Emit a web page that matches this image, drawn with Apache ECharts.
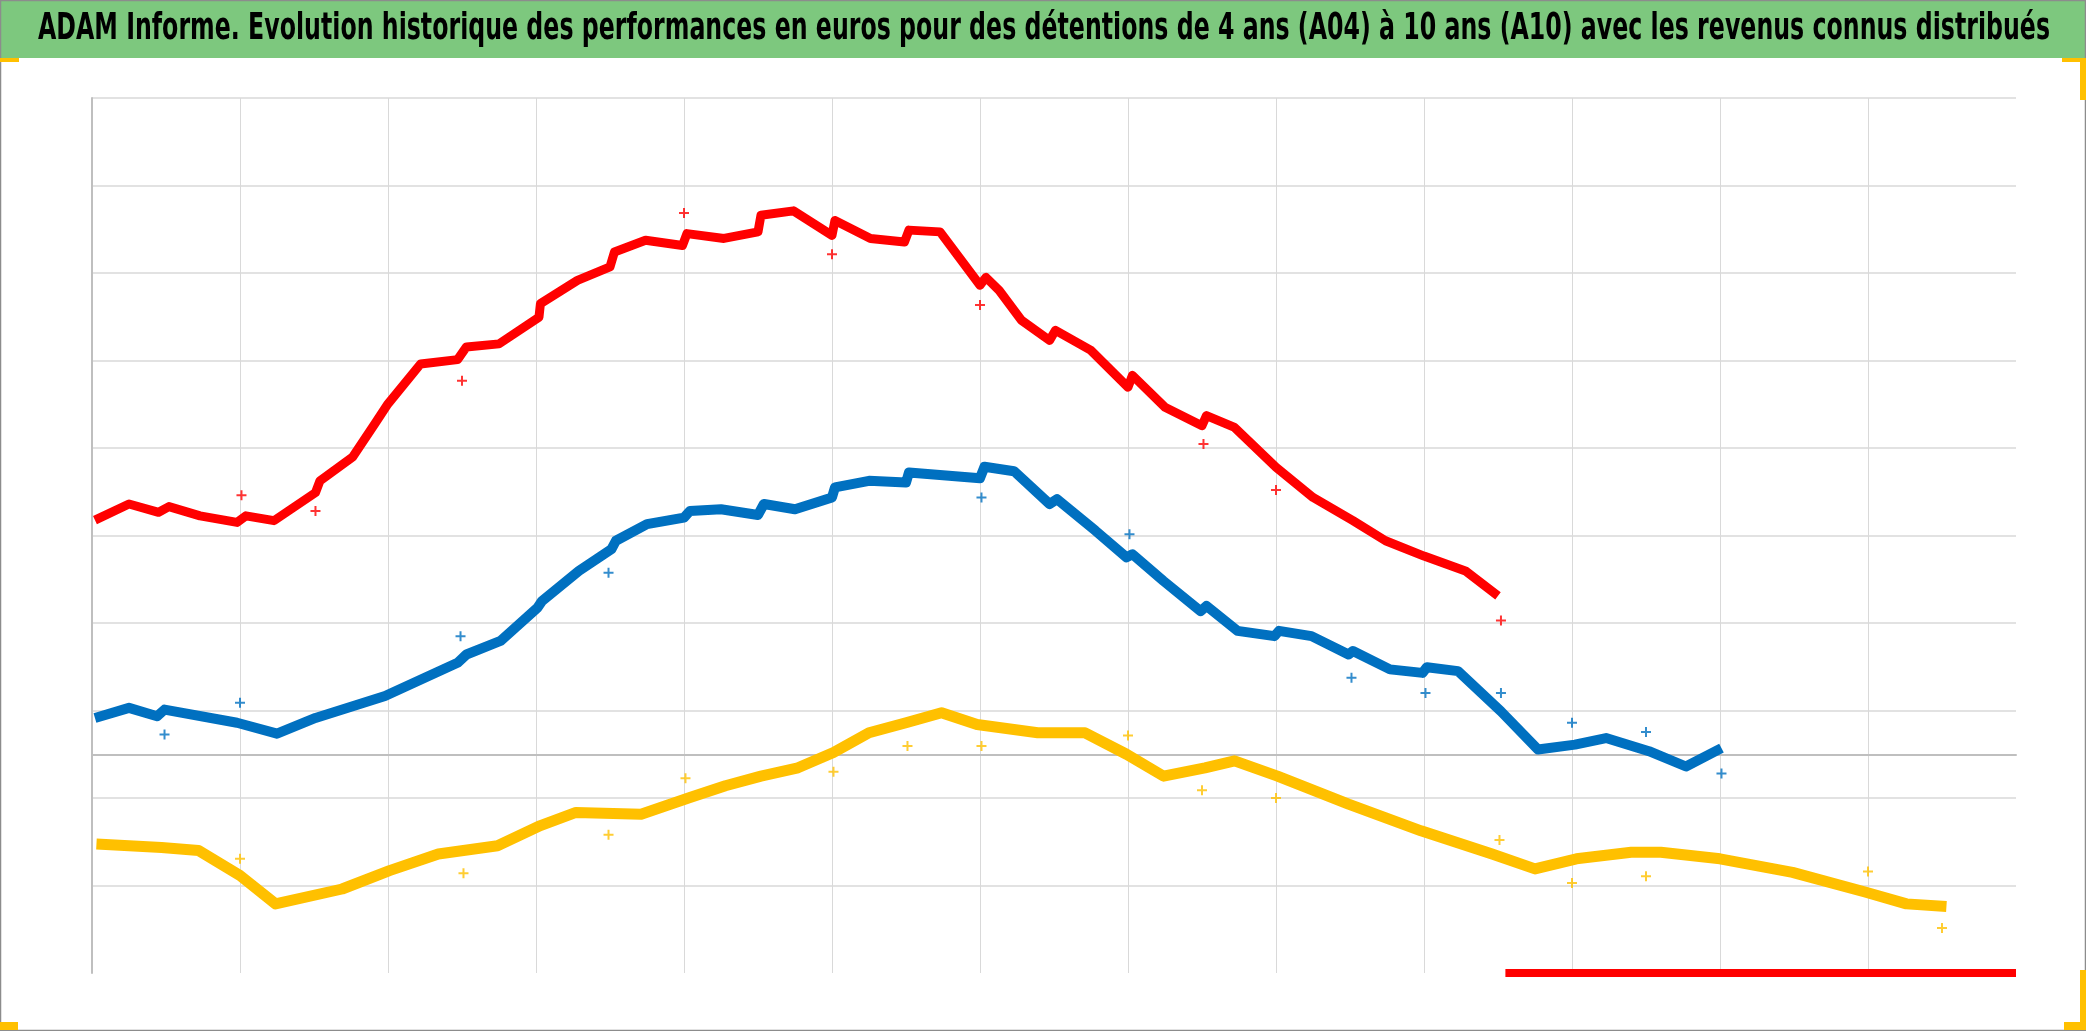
<!DOCTYPE html>
<html>
<head>
<meta charset="utf-8">
<script src="https://cdn.jsdelivr.net/npm/echarts@6/dist/echarts.min.js"></script>
<style>
html,body{margin:0;padding:0;background:#fff;}
#chart{width:2086px;height:1031px;}
</style>
</head>
<body>
<div id="chart"></div>
<script>
// Title
const titleText = "ADAM Informe. Evolution historique des performances en euros pour des détentions de 4 ans (A04) à 10 ans (A10) avec les revenus connus distribués";

// x in axis units (one vertical gridline per unit), y in % (zero line = 0)
const xRange = [0, 13];
const yRange = [-50, 150];

// Daily performance curves
const a10Line = [[0.02,53.5],[0.25,57.2],[0.45,55.3],[0.52,56.6],[0.73,54.5],[0.98,53.0],[1.04,54.5],[1.23,53.4],[1.51,59.8],[1.54,62.5],[1.76,67.9],[1.91,75.5],[2.0,80.1],[2.22,89.2],[2.47,90.2],[2.53,93.1],[2.75,93.8],[3.02,99.9],[3.03,103],[3.28,108.3],[3.50,111.4],[3.53,114.8],[3.74,117.5],[3.99,116.3],[4.02,119],[4.27,117.9],[4.50,119.4],[4.52,123.2],[4.74,124.2],[5.00,118.6],[5.02,122],[5.26,117.9],[5.49,117.1],[5.52,119.8],[5.73,119.4],[6.0,107.2],[6.04,109],[6.13,106],[6.28,99.2],[6.47,94.6],[6.51,96.9],[6.75,92.3],[7.0,83.9],[7.03,86.6],[7.25,79.3],[7.50,75.1],[7.53,77.4],[7.72,74.7],[8.0,65.6],[8.25,58.7],[8.52,53.4],[8.74,48.8],[9.0,45.3],[9.28,41.9],[9.50,36.2]];
const a07Line = [[0.02,8.3],[0.25,10.6],[0.44,8.7],[0.49,10.2],[0.98,7.2],[1.25,4.7],[1.51,8.3],[1.98,13.3],[2.47,20.9],[2.53,22.8],[2.76,25.9],[3.01,33.5],[3.04,35],[3.29,41.9],[3.51,46.9],[3.54,48.8],[3.75,52.6],[4.0,54.1],[4.04,55.6],[4.25,56],[4.50,54.7],[4.54,57.2],[4.75,56],[5.0,58.7],[5.02,61],[5.25,62.5],[5.50,62.1],[5.52,64.4],[6.0,63.1],[6.03,65.7],[6.23,64.7],[6.47,57.2],[6.52,58.3],[6.78,51.1],[6.99,45],[7.03,45.7],[7.24,39.6],[7.49,32.7],[7.53,33.9],[7.74,28.2],[7.99,27],[8.02,28.2],[8.24,27],[8.49,22.8],[8.52,23.6],[8.77,19.4],[8.99,18.6],[9.02,19.9],[9.23,19],[9.52,9.8],[9.77,1.1],[10.02,2.2],[10.23,3.7],[10.52,0.7],[10.77,-2.8],[11.01,1.4]];
const a04Line = [[0.03,-20.5],[0.47,-21.3],[0.72,-22],[1.0,-27.7],[1.24,-34.2],[1.69,-30.8],[2.01,-26.6],[2.34,-22.8],[2.74,-20.9],[3.03,-16.3],[3.27,-13.3],[3.71,-13.7],[4.04,-9.9],[4.28,-7.2],[4.52,-5],[4.77,-3.1],[5.01,0.4],[5.25,4.9],[5.5,7.2],[5.74,9.5],[5.98,6.8],[6.39,4.9],[6.71,4.9],[6.99,0],[7.24,-5],[7.52,-3.1],[7.72,-1.5],[8.01,-5],[8.49,-11.4],[8.98,-17.5],[9.46,-22.8],[9.75,-26.2],[10.03,-23.9],[10.40,-22.4],[10.6,-22.4],[11.0,-23.9],[11.49,-27],[11.98,-31.5],[12.26,-34.2],[12.53,-34.8]];

// Yearly points with known distributed revenues
const a10Rev = [[1.01,59.2],[1.51,55.6],[2.50,85.4],[4.0,123.7],[5.0,114.3],[6.0,102.7],[7.51,70.9],[8.0,60.4],[9.52,30.6]];
const a07Rev = [[0.49,4.5],[1.0,11.8],[2.49,27],[3.49,41.5],[6.01,58.7],[7.01,50.3],[8.51,17.5],[9.01,14],[9.52,14],[10.0,7.2],[10.5,5.1],[11.01,-4.4]];
const a04Rev = [[1.0,-23.9],[2.51,-27.2],[3.49,-18.4],[4.01,-5.5],[5.01,-4],[5.51,1.9],[6.01,1.9],[7.0,4.3],[7.5,-8.2],[8.0,-10],[9.51,-19.6],[10.0,-29.4],[10.5,-27.9],[12.0,-26.8],[12.5,-39.7]];

// Dates with no value (drawn at the axis minimum)
const a10Empty = [[9.55,-50],[13,-50]];
const a07Empty = [[11.05,-50],[13,-50]];
const a04Empty = [[12.56,-50],[13,-50]];

const colors = {a10:'#ff0000', a07:'#0070c0', a04:'#ffc000'};
const plusPath = 'path://M4,0H6V4H10V6H6V10H4V6H0V4H4Z';

function lineSeries(name, data, color, width) {
  return {name, type:'line', data, showSymbol:false, symbol:'none', smooth:false,
    lineStyle:{color, width, cap:'butt', join:'round'}, animation:false, clip:true, z:3};
}
function revSeries(name, data, color) {
  return {name, type:'scatter', data, symbol:plusPath, symbolSize:10,
    itemStyle:{color}, animation:false, z:4};
}
function emptySeries(name, data, color) {
  return {name, type:'line', data, showSymbol:false, symbol:'none',
    lineStyle:{color, width:8, cap:'butt'}, animation:false, clip:false, z:5};
}

// measure title to fit its original width
const cv = document.createElement('canvas').getContext('2d');
const titleFont = 'bold 38px "Liberation Sans Narrow", "DejaVu Sans Condensed", "Noto Sans", sans-serif';
cv.font = titleFont;
const titleW = cv.measureText(titleText).width;
const titleScale = 2012 / titleW;

const chart = echarts.init(document.getElementById('chart'), null, {renderer:'canvas'});
chart.setOption({
  backgroundColor:'#ffffff',
  animation:false,
  grid:{left:92, top:98, width:1924, height:875, containLabel:false},
  xAxis:{type:'value', min:xRange[0], max:xRange[1], interval:1,
    axisLabel:{show:false}, axisTick:{show:false},
    axisLine:{show:true, onZero:true, onZeroAxisIndex:0, lineStyle:{color:'#bfbfbf', width:2}},
    splitLine:{show:true, showMaxLine:false, lineStyle:{color:'#d9d9d9', width:1}}},
  yAxis:[
    {type:'value', min:yRange[0], max:yRange[1], position:'left',
      axisLabel:{show:false}, axisTick:{show:false}, axisLine:{show:false}, splitLine:{show:false}},
    {type:'value', min:0, max:10, interval:1, position:'left',
      axisLabel:{show:false}, axisTick:{show:false},
      axisLine:{show:true, onZero:false, lineStyle:{color:'#bfbfbf', width:2}},
      splitLine:{show:true, showMinLine:false, lineStyle:{color:'#d9d9d9', width:1.5}}}
  ],
  series:[
    lineSeries('A04', a04Line, colors.a04, 11),
    lineSeries('A07', a07Line, colors.a07, 10),
    lineSeries('A10', a10Line, colors.a10, 9),
    revSeries('A04 revenus', a04Rev, colors.a04),
    revSeries('A07 revenus', a07Rev, colors.a07),
    revSeries('A10 revenus', a10Rev, colors.a10),
    emptySeries('A04 vide', a04Empty, colors.a04),
    emptySeries('A07 vide', a07Empty, colors.a07),
    emptySeries('A10 vide', a10Empty, colors.a10)
  ],
  graphic:[
    {type:'rect', shape:{x:0, y:0, width:2086, height:58}, style:{fill:'#7dc87e'}, z:0},
    {type:'text', x:38, y:29, scaleX:titleScale, z:10,
      style:{text:titleText, font:titleFont, fill:'#000', align:'left', verticalAlign:'middle'}},
    {type:'rect', shape:{x:0.5,y:0.5,width:2085, height:1030}, style:{fill:'none', stroke:'#8c8c8c', lineWidth:1.5}, z:10},
    {type:'rect', shape:{x:0, y:58, width:19, height:4}, style:{fill:'#ffc000'}, z:11},
    {type:'rect', shape:{x:2062, y:58, width:24, height:4}, style:{fill:'#ffc000'}, z:11},
    {type:'rect', shape:{x:2080, y:58, width:6, height:42}, style:{fill:'#ffc000'}, z:11},
    {type:'rect', shape:{x:0, y:1022, width:18, height:8}, style:{fill:'#ffc000'}, z:11},
    {type:'rect', shape:{x:2064, y:1022, width:22, height:8}, style:{fill:'#ffc000'}, z:11},
    {type:'rect', shape:{x:2080, y:970, width:6, height:60}, style:{fill:'#ffc000'}, z:11}
  ]
});
</script>
</body>
</html>
